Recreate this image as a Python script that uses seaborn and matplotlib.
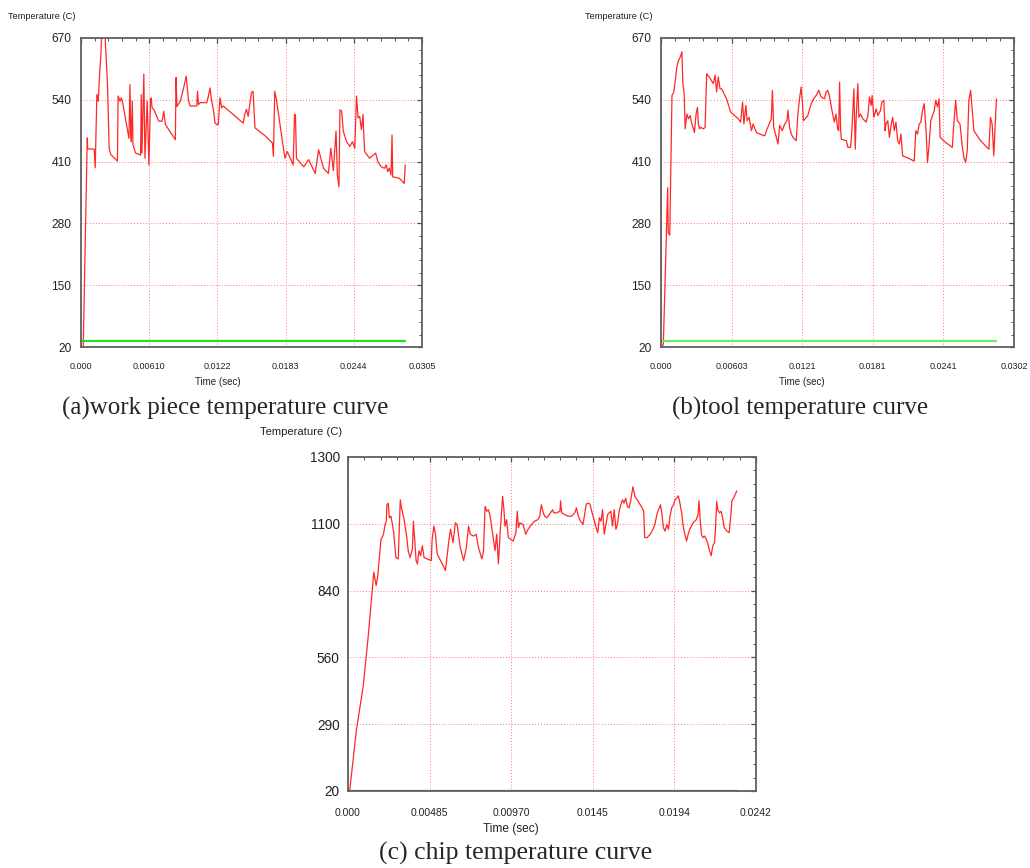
import numpy as np
import pandas as pd
import seaborn as sns
import matplotlib
matplotlib.use("Agg")
import matplotlib.pyplot as plt
from matplotlib import font_manager
from matplotlib.ticker import AutoMinorLocator

# (a) work piece temperature (time in s, temperature in C)
t_work = [0.0, 0.0002, 0.00056, 0.0006, 0.00118, 0.00127, 0.00142, 0.00154, 0.00163, 0.00178,
          0.00186, 0.00207, 0.00237, 0.00252, 0.00266, 0.00326, 0.00332, 0.00349, 0.00361, 0.0037,
          0.00429, 0.00438, 0.00445, 0.0045, 0.00459, 0.00465, 0.00488, 0.00533, 0.00539, 0.00545,
          0.00562, 0.00572, 0.00592, 0.00607, 0.00622, 0.00628, 0.00636, 0.00651, 0.00696, 0.00725,
          0.0074, 0.00755, 0.00844, 0.0085, 0.00858, 0.00888, 0.00918, 0.00941, 0.00962, 0.00977,
          0.01036, 0.01042, 0.01051, 0.01066, 0.01125, 0.0114, 0.01154, 0.01169, 0.01184, 0.01199,
          0.01214, 0.01228, 0.01243, 0.01258, 0.01273, 0.0145, 0.01465, 0.0148, 0.01495, 0.01524,
          0.01539, 0.01556, 0.01653, 0.01712, 0.01721, 0.01733, 0.0175, 0.01815, 0.01824, 0.01845,
          0.01859, 0.01898, 0.0191, 0.01918, 0.01927, 0.01992, 0.02036, 0.02095, 0.02125, 0.02169,
          0.02213, 0.02234, 0.02257, 0.02281, 0.02293, 0.02307, 0.02316, 0.02331, 0.02346, 0.02375,
          0.02405, 0.02428, 0.02449, 0.02464, 0.02478, 0.02493, 0.02508, 0.02523, 0.02528, 0.02537,
          0.02581, 0.02635, 0.02655, 0.02685, 0.02714, 0.02729, 0.02744, 0.02758, 0.02773, 0.02782,
          0.02788, 0.02847, 0.02891, 0.029]
temp_work = [20, 20, 460, 437, 436, 397, 551, 537, 580, 636,
             690, 715, 572, 438, 425, 411, 548, 537, 544, 537,
             459, 572, 470, 452, 537, 445, 428, 424, 551, 428,
             594, 417, 537, 403, 541, 544, 523, 520, 495, 495,
             516, 488, 456, 587, 526, 537, 565, 590, 537, 527,
             527, 558, 530, 534, 534, 548, 565, 537, 519, 491,
             488, 488, 544, 523, 527, 491, 509, 520, 505, 555,
             558, 481, 463, 449, 421, 558, 537, 431, 417, 431,
             424, 403, 509, 509, 417, 399, 414, 385, 435, 396,
             385, 438, 391, 474, 382, 357, 519, 516, 474, 452,
             442, 452, 438, 548, 502, 505, 477, 509, 474, 431,
             417, 428, 410, 399, 396, 403, 389, 396, 382, 466,
             378, 375, 364, 403]
room_work_t = [0.0, 0.029]
room_work_v = [32, 32]

# (b) tool temperature
t_tool = [0.0, 0.0002, 0.00057, 0.00062, 0.00075, 0.00094, 0.0011, 0.00122, 0.00136, 0.0015,
          0.00165, 0.00179, 0.00187, 0.00198, 0.00207, 0.00221, 0.00235, 0.00249, 0.00264, 0.00278,
          0.00286, 0.003, 0.00312, 0.0032, 0.00329, 0.0034, 0.00363, 0.00377, 0.00391, 0.0042,
          0.00448, 0.00462, 0.00476, 0.0049, 0.00505, 0.00519, 0.00561, 0.00596, 0.00661, 0.00681,
          0.00698, 0.00709, 0.00726, 0.00737, 0.00754, 0.00774, 0.00788, 0.00817, 0.00845, 0.00887,
          0.00902, 0.00944, 0.00953, 0.00964, 0.00987, 0.01001, 0.01015, 0.01038, 0.01058, 0.01078,
          0.01086, 0.011, 0.01115, 0.01129, 0.01157, 0.01171, 0.01185, 0.01199, 0.01208, 0.01219,
          0.01256, 0.01285, 0.01305, 0.01327, 0.0135, 0.0137, 0.01398, 0.01412, 0.01426, 0.0144,
          0.01463, 0.01483, 0.01497, 0.01511, 0.0152, 0.01528, 0.01537, 0.01543, 0.01585, 0.01599,
          0.01622, 0.01633, 0.0165, 0.01662, 0.0167, 0.01684, 0.01693, 0.01707, 0.01727, 0.01755,
          0.0177, 0.01784, 0.01798, 0.01806, 0.01821, 0.0184, 0.01855, 0.01877, 0.01889, 0.01906,
          0.01917, 0.01925, 0.0194, 0.01954, 0.01968, 0.01982, 0.01996, 0.0201, 0.02025, 0.02039,
          0.02053, 0.02067, 0.0211, 0.02166, 0.0218, 0.02195, 0.02209, 0.02223, 0.02237, 0.02252,
          0.02266, 0.0228, 0.02294, 0.02308, 0.02337, 0.02351, 0.02365, 0.02379, 0.02388, 0.02436,
          0.02493, 0.02501, 0.02521, 0.02535, 0.02558, 0.02578, 0.02592, 0.02606, 0.0262, 0.02634,
          0.02649, 0.02663, 0.02677, 0.02734, 0.02805, 0.02819, 0.02833, 0.02847, 0.02861, 0.0287]
temp_tool = [20, 25, 355, 260, 255, 549, 556, 581, 609, 623,
             630, 641, 574, 553, 479, 510, 500, 507, 489, 479,
             471, 510, 524, 489, 479, 482, 479, 482, 595, 585,
             574, 592, 557, 588, 563, 563, 542, 514, 500, 493,
             535, 489, 528, 496, 503, 475, 489, 471, 468, 464,
             475, 500, 560, 482, 461, 447, 486, 475, 489, 496,
             518, 482, 468, 461, 454, 510, 542, 567, 539, 496,
             507, 532, 542, 549, 560, 546, 542, 556, 560, 549,
             517, 493, 510, 479, 475, 577, 475, 457, 454, 440,
             440, 475, 563, 436, 503, 574, 503, 510, 500, 493,
             507, 546, 528, 549, 503, 521, 507, 517, 535, 539,
             475, 489, 496, 461, 486, 503, 475, 493, 454, 447,
             468, 422, 418, 411, 475, 468, 489, 493, 517, 532,
             482, 408, 447, 496, 517, 539, 525, 542, 461, 450,
             440, 475, 539, 496, 489, 440, 418, 408, 433, 539,
             560, 517, 475, 454, 436, 503, 489, 422, 496, 542]
room_tool_t = [0.0, 0.0287]
room_tool_v = [32, 32]

# (c) chip temperature
t_chip = [0.0, 0.0001, 0.0005, 0.0009, 0.0012, 0.00145, 0.00153, 0.00167, 0.00176, 0.00186,
          0.00196, 0.00206, 0.00212, 0.0022, 0.00227, 0.00231, 0.00239, 0.00245, 0.00255, 0.0027,
          0.00284, 0.00298, 0.0031, 0.00317, 0.00333, 0.00349, 0.00357, 0.00368, 0.00382, 0.00388,
          0.00396, 0.00404, 0.00412, 0.00421, 0.00431, 0.00441, 0.00451, 0.0047, 0.00494, 0.00499,
          0.0051, 0.00519, 0.00529, 0.00549, 0.00568, 0.00578, 0.00598, 0.00608, 0.00623, 0.00637,
          0.00647, 0.00666, 0.00686, 0.00702, 0.00715, 0.00725, 0.00745, 0.0076, 0.00774, 0.00794,
          0.00804, 0.00813, 0.00823, 0.00833, 0.00843, 0.00853, 0.00872, 0.00882, 0.00892, 0.00902,
          0.00917, 0.00925, 0.00931, 0.00941, 0.00951, 0.0098, 0.00996, 0.01004, 0.01011, 0.01019,
          0.01039, 0.01054, 0.01068, 0.01088, 0.01107, 0.01127, 0.01137, 0.01147, 0.01156, 0.01166,
          0.0118, 0.01214, 0.0122, 0.01237, 0.01257, 0.01261, 0.01267, 0.01286, 0.01306, 0.01325,
          0.01345, 0.01355, 0.01364, 0.01374, 0.01394, 0.01403, 0.01413, 0.01429, 0.01436, 0.01448,
          0.01462, 0.01472, 0.01481, 0.01491, 0.01501, 0.0151, 0.0152, 0.0153, 0.0154, 0.01549,
          0.01559, 0.01569, 0.01579, 0.01589, 0.01598, 0.01608, 0.01618, 0.01628, 0.01637, 0.01647,
          0.01657, 0.01667, 0.01676, 0.0169, 0.01702, 0.01721, 0.01745, 0.01754, 0.0176, 0.01774,
          0.01793, 0.01803, 0.01813, 0.01822, 0.01832, 0.01838, 0.01846, 0.01854, 0.01862, 0.01871,
          0.01881, 0.01891, 0.01901, 0.0191, 0.0192, 0.0193, 0.0194, 0.01949, 0.01959, 0.01965,
          0.01979, 0.01988, 0.01998, 0.02008, 0.02018, 0.02027, 0.02037, 0.02047, 0.02057, 0.02066,
          0.02076, 0.02082, 0.02088, 0.02096, 0.02105, 0.02115, 0.02125, 0.02135, 0.02144, 0.02154,
          0.02164, 0.02174, 0.0218, 0.02187, 0.02193, 0.02203, 0.02213, 0.02222, 0.02232, 0.02248,
          0.02261, 0.02271, 0.02277, 0.02287, 0.023, 0.02306]
temp_chip = [20, 22, 254, 421, 613, 800, 859, 808, 840, 915,
             985, 997, 1010, 1041, 1054, 1117, 1123, 1067, 1073, 1016,
             915, 909, 1136, 1105, 1060, 991, 941, 915, 947, 1054,
             978, 903, 890, 941, 922, 960, 915, 909, 903, 985,
             1035, 1004, 928, 903, 878, 865, 978, 1023, 972, 1048,
             1041, 953, 903, 953, 1035, 1004, 997, 1004, 953, 909,
             941, 1111, 1092, 1098, 1073, 1029, 941, 1004, 890, 1004,
             1149, 1098, 1035, 1060, 991, 978, 1010, 1092, 1029, 1048,
             1041, 1004, 1023, 1041, 1054, 1060, 1073, 1117, 1092, 1073,
             1067, 1098, 1086, 1086, 1092, 1132, 1086, 1079, 1073, 1073,
             1086, 1105, 1079, 1060, 1041, 1079, 1120, 1123, 1117, 1086,
             1054, 1029, 1010, 1067, 1054, 1098, 1004, 1041, 1079, 1086,
             1092, 1035, 1098, 1023, 1041, 1092, 1117, 1136, 1123, 1142,
             1111, 1105, 1130, 1186, 1149, 1130, 1105, 1092, 991, 991,
             1004, 1016, 1029, 1048, 1079, 1092, 1105, 1117, 1079, 1029,
             1016, 1041, 1023, 1073, 1105, 1117, 1136, 1142, 1151, 1136,
             1086, 1035, 1004, 978, 1004, 1023, 1035, 1048, 1054, 1060,
             1079, 1132, 1067, 1004, 991, 997, 985, 966, 941, 922,
             960, 972, 1029, 1130, 1098, 1086, 1092, 1067, 1029, 1016,
             1010, 1079, 1132, 1142, 1161, 1170]
room_chip_t = [0.0, 0.02306]
room_chip_v = [20, 20]

xticklabels_work = ["0.000", "0.00610", "0.0122", "0.0183", "0.0244", "0.0305"]
xticklabels_tool = ["0.000", "0.00603", "0.0121", "0.0181", "0.0241", "0.0302"]
xticklabels_chip = ["0.000", "0.00485", "0.00970", "0.0145", "0.0194", "0.0242"]
yticklabels_wt = ["20", "150", "280", "410", "540", "670"]
yticklabels_chip = ["20", "290", "560", "840", "1100", "1300"]

sns.set_style("white")
names = {f.name for f in font_manager.fontManager.ttflist}
if "Liberation Sans Narrow" in names:
    sans, k = "Liberation Sans Narrow", 1.0
else:
    sans, k = "Liberation Sans", 0.86
plt.rcParams["font.family"] = [sans, "DejaVu Sans"]

W, H = 1030, 868
fig = plt.figure(figsize=(W / 100, H / 100), dpi=100)


def rect(l, r, t, b):
    return [l / W, 1 - b / H, (r - l) / W, (b - t) / H]


def panel(box, t, v, rt, rv, xmax, xlabels, ymax, ylabels, green, fs):
    ax = fig.add_axes(box)
    df = pd.DataFrame({"time": t, "temp": v})
    sns.lineplot(data=df, x="time", y="temp", ax=ax, color="#ff1010", lw=0.9,
                 alpha=0.9, estimator=None, sort=False)
    sns.lineplot(x=rt, y=rv, ax=ax, color=green, lw=1.6, estimator=None, sort=False)
    ax.set_xlim(0, xmax)
    ax.set_ylim(20, ymax)
    ax.set_xticks(np.linspace(0, xmax, 6))
    ax.set_xticklabels(xlabels)
    ax.set_yticks(np.linspace(20, ymax, 6))
    ax.set_yticklabels(ylabels)
    ax.xaxis.set_minor_locator(AutoMinorLocator(5))
    ax.yaxis.set_minor_locator(AutoMinorLocator(5))
    ax.grid(True, which="major", color="#ff7777", lw=0.7, ls=(0, (1, 2)))
    ax.tick_params(which="both", direction="in", top=True, right=True, color="#505050")
    ax.tick_params(which="major", length=3.5, width=0.9)
    ax.tick_params(which="minor", length=2.3, width=0.7)
    ax.tick_params(axis="x", labelsize=fs[1] * k, pad=fs[4], colors="#222222")
    ax.tick_params(axis="y", labelsize=fs[0] * k, pad=fs[5], colors="#222222")
    ax.tick_params(which="both", color="#505050")
    for s in ax.spines.values():
        s.set_color("#606060")
        s.set_linewidth(1.3)
    ax.set_xlabel("Time (sec)", fontsize=fs[3] * k, color="#222222", va="center")
    ax.xaxis.set_label_coords(0.4, fs[6])
    ax.set_ylabel("Temperature (C)", fontsize=fs[2] * k, color="#222222",
                  rotation=0, ha="left", va="center")
    ax.yaxis.set_label_coords(-0.215, fs[7])
    return ax


# font sizes: ytick, xtick, ylabel, xlabel, xpad, ypad, xlabel y, ylabel y
fs_small = (10, 7.5, 7.8, 8.2, 11, 7, -0.113, 1.071)
fs_big = (11.4, 8.7, 9.4, 10, 12, 6, -0.114, 1.076)

panel(rect(81, 422, 38, 347), t_work, temp_work, room_work_t, room_work_v, 0.0305,
      xticklabels_work, 670, yticklabels_wt, "#22e022", fs_small)
panel(rect(661, 1014, 38, 347), t_tool, temp_tool, room_tool_t, room_tool_v, 0.0302,
      xticklabels_tool, 670, yticklabels_wt, "#66ee66", fs_small)
panel(rect(348, 756, 457, 791), t_chip, temp_chip, room_chip_t, room_chip_v, 0.0242,
      xticklabels_chip, 1300, yticklabels_chip, "#2aa02a", fs_big)

serif = ["Liberation Serif", "DejaVu Serif"]
fig.text(225 / W, 1 - 408 / H, "(a)work piece temperature curve", family=serif,
         fontsize=18, ha="center", va="center")
fig.text(800 / W, 1 - 408 / H, "(b)tool temperature curve", family=serif,
         fontsize=18, ha="center", va="center")
fig.text(516 / W, 1 - 853 / H, "(c) chip temperature curve", family=serif,
         fontsize=18.5, ha="center", va="center")

fig.savefig("out.png", dpi=100, facecolor="white")
